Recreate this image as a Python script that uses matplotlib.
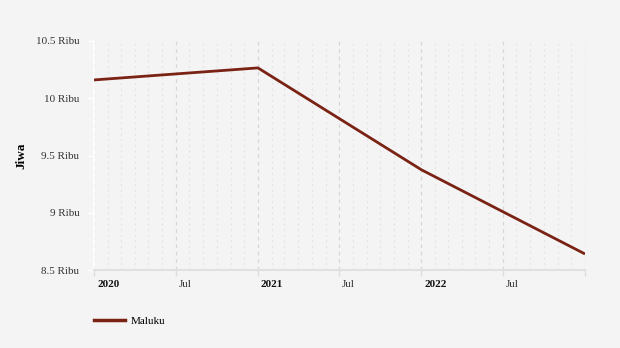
import numpy as np
import pandas as pd
import matplotlib
matplotlib.use("Agg")
import matplotlib.pyplot as plt
import matplotlib.transforms as mtransforms
from matplotlib.lines import Line2D

# Jumlah penduduk (ribu jiwa) per awal tahun
dates  = pd.to_datetime(["2020-01-01", "2021-01-01", "2022-01-01", "2023-01-01"])
values = [10.16, 10.265, 9.375, 8.64]
series_name = "Maluku"

y_ticks  = [8.5, 9, 9.5, 10, 10.5]
y_labels = ["8.5 Ribu", "9 Ribu", "9.5 Ribu", "10 Ribu", "10.5 Ribu"]
x_ticks  = pd.to_datetime(["2020-01-01", "2020-07-01", "2021-01-01", "2021-07-01",
                           "2022-01-01", "2022-07-01", "2023-01-01"])
x_labels = ["2020", "Jul", "2021", "Jul", "2022", "Jul", ""]

BG   = "#f4f4f4"
LINE = "#7a2315"

plt.rcParams["font.family"] = ["Liberation Serif", "DejaVu Serif"]

fig = plt.figure(figsize=(6.2, 3.48), dpi=100, facecolor=BG)
ax = fig.add_axes([94 / 620, 78 / 348, 491 / 620, 229 / 348], facecolor=BG)

# monthly minor grid, half-year major grid
months = pd.date_range("2020-01-01", "2023-01-01", freq="MS")
for m in months:
    major = m.month in (1, 7)
    ax.axvline(m, color="#d6d6d6" if major else "#e3e3e3",
               lw=0.9, ls=(0, (3, 3)) if major else (0, (1.5, 3)), zorder=0)

ax.plot(dates, values, color=LINE, lw=2.0, solid_capstyle="butt", zorder=3)

ax.set_xlim(dates[0], dates[-1])
ax.set_ylim(8.5, 10.5)

ax.set_yticks(y_ticks)
ax.set_yticklabels(y_labels, fontsize=8, color="#333333")
ax.tick_params(axis="y", length=4, width=1, color="white", pad=6.5)

ax.set_xticks(x_ticks)
ax.set_xticklabels(x_labels, fontsize=8, color="#333333", ha="left")
ax.tick_params(axis="x", length=4, width=1, color="#dddddd", pad=3)
for lab in ax.get_xticklabels():
    if lab.get_text().isdigit():
        lab.set_fontweight("bold")
        lab.set_color("#111111")
# nudge labels to the right of their ticks
offset = mtransforms.ScaledTranslation(3 / 100, 0, fig.dpi_scale_trans)
for lab in ax.get_xticklabels():
    lab.set_transform(lab.get_transform() + offset)

for side in ("top", "right"):
    ax.spines[side].set_visible(False)
ax.spines["left"].set_color("white")
ax.spines["left"].set_linewidth(1.2)
ax.spines["bottom"].set_color("#e0e0e0")
ax.spines["bottom"].set_linewidth(1.5)

ax.set_ylabel("Jiwa", fontsize=9.5, fontweight="bold", labelpad=6)

handle = Line2D([], [], color=LINE, lw=2.5)
fig.legend([handle], [series_name], loc="lower left", bbox_to_anchor=(84 / 620, 12 / 348),
           frameon=False, fontsize=8, handlelength=2.8, handletextpad=0.5)

fig.savefig("out.png", dpi=100, facecolor=BG)
